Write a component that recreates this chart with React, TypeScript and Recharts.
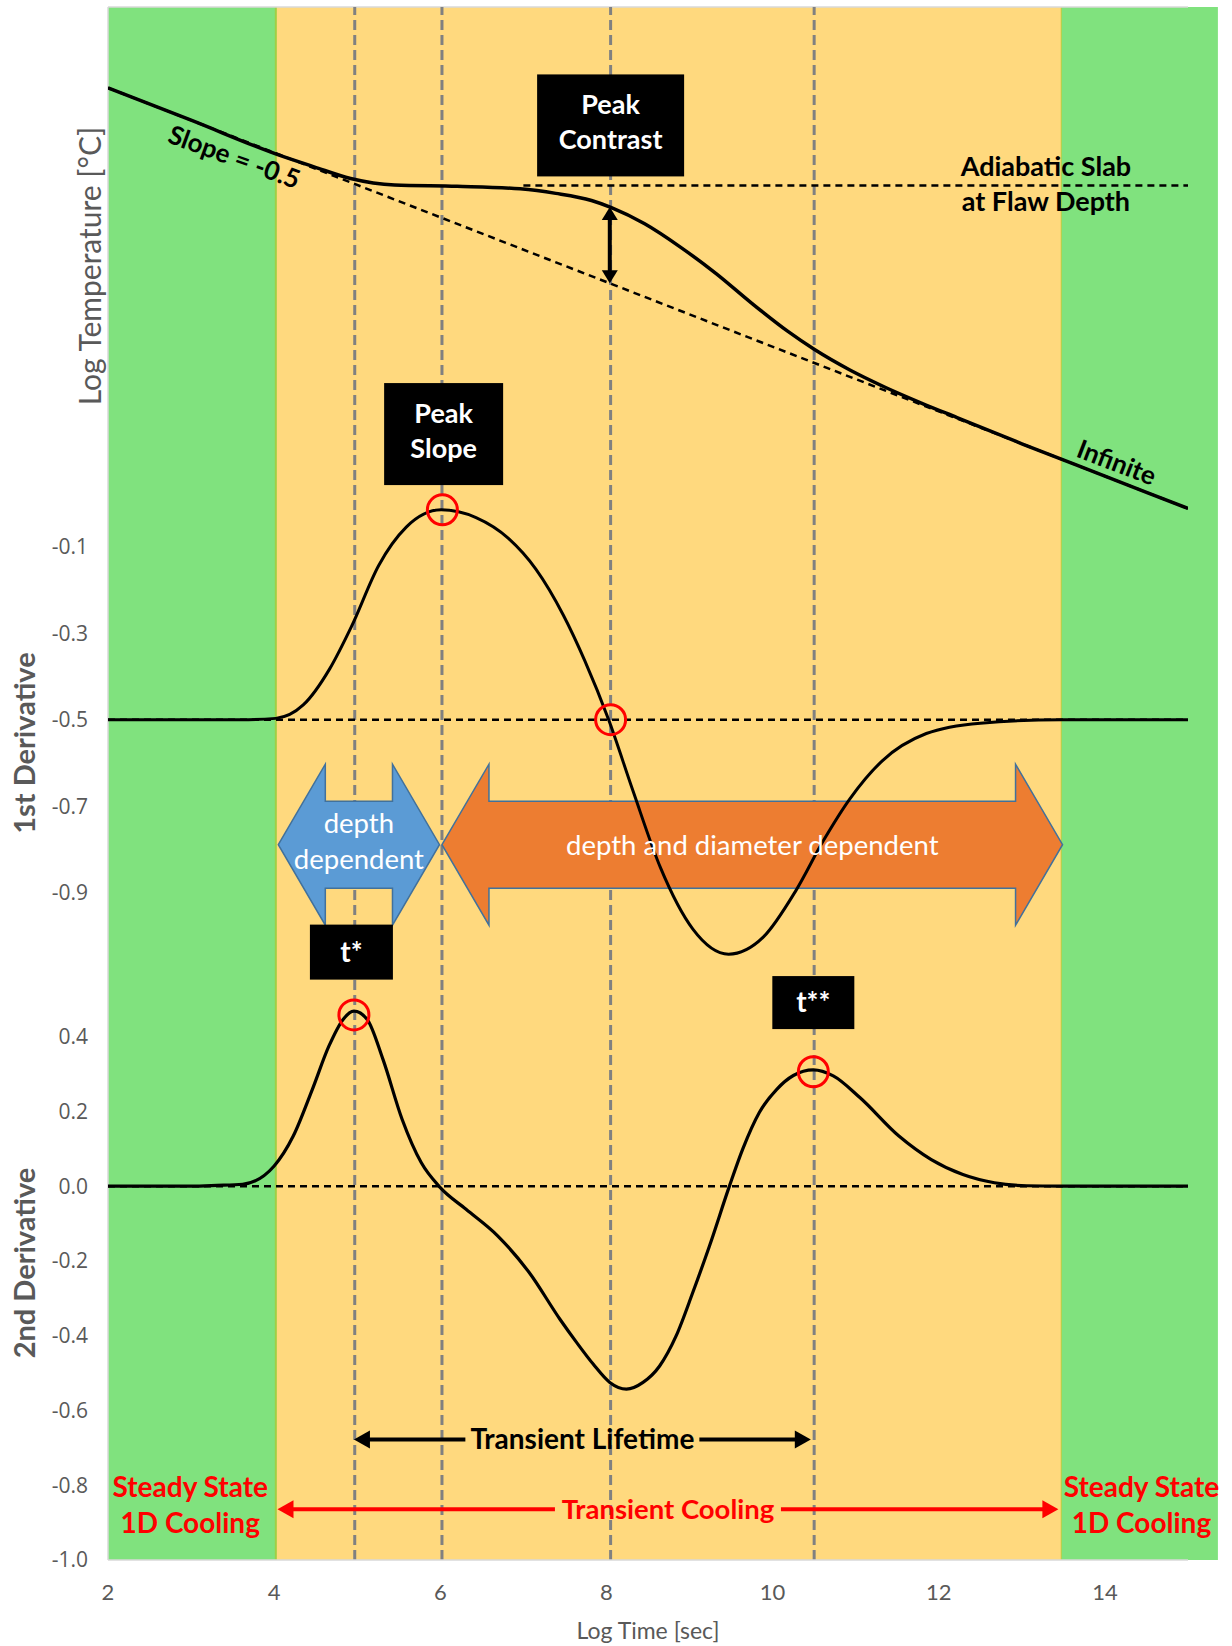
/**
 * Thermographic signal reconstruction sketch: log temperature, 1st and 2nd
 * derivative vs log time, stacked on one plot area with three y axes.
 */

import React from "react";
import {
  ComposedChart,
  Line,
  XAxis,
  YAxis,
  ReferenceArea,
  ReferenceLine,
  ReferenceDot,
} from "recharts";

// ---- axes ----
const TIME_TICKS = [2, 4, 6, 8, 10, 12, 14];
const FIRST_DERIV_TICKS = [-0.9, -0.7, -0.5, -0.3, -0.1];
const SECOND_DERIV_TICKS = [-1.0, -0.8, -0.6, -0.4, -0.2, 0.0, 0.2, 0.4];

// ---- log temperature (arbitrary log units) ----
const TEMP_TIME = [2, 3, 4.06, 4.48, 4.92, 5.45, 6.2, 6.96, 7.39, 7.82, 8.06, 8.46, 8.89, 9.32, 9.75, 10.18, 10.5, 10.93, 11.36, 11.79, 12.22, 13, 14, 15];
const TEMP_VALUE = [22.75, 22.25, 21.71, 21.53, 21.35, 21.25, 21.23, 21.19, 21.12, 21.01, 20.9, 20.65, 20.29, 19.88, 19.42, 18.99, 18.71, 18.39, 18.12, 17.88, 17.655, 17.25, 16.75, 16.25];

const INFINITE_TIME = [2, 15];
const INFINITE_VALUE = [22.75, 16.25];

const SLAB_TIME = [7, 15];
const SLAB_VALUE = [21.24, 21.24];

// ---- 1st derivative ----
const D1_TIME = [2, 3, 3.69, 4.02, 4.35, 4.67, 4.93, 5.26, 5.59, 6.01, 6.43, 6.82, 7.15, 7.48, 7.74, 8.03, 8.32, 8.65, 9.04, 9.47, 9.89, 10.28, 10.61, 10.93, 11.32, 11.85, 12.5, 13.48, 15];
const D1_VALUE = [-0.5, -0.5, -0.5, -0.497, -0.466, -0.382, -0.285, -0.143, -0.055, -0.015, -0.033, -0.081, -0.152, -0.258, -0.364, -0.502, -0.665, -0.842, -0.984, -1.042, -1.002, -0.895, -0.78, -0.683, -0.595, -0.532, -0.508, -0.5, -0.5];

// ---- 2nd derivative ----
const D2_TIME = [2, 3, 3.31, 3.62, 4.0, 4.23, 4.46, 4.66, 4.83, 4.96, 5.12, 5.31, 5.54, 5.77, 6.0, 6.31, 6.69, 7.07, 7.44, 7.64, 7.84, 8.04, 8.24, 8.44, 8.64, 8.84, 9.04, 9.24, 9.48, 9.64, 9.84, 10.05, 10.25, 10.49, 10.73, 11.05, 11.52, 11.91, 12.29, 12.67, 13.06, 13.44, 15];
const D2_VALUE = [0, 0, 0.002, 0.005, 0.054, 0.134, 0.259, 0.375, 0.446, 0.468, 0.446, 0.339, 0.179, 0.063, -0.004, -0.062, -0.133, -0.231, -0.356, -0.418, -0.476, -0.525, -0.543, -0.525, -0.481, -0.4, -0.284, -0.16, 0, 0.099, 0.197, 0.259, 0.296, 0.311, 0.295, 0.237, 0.134, 0.071, 0.031, 0.009, 0.001, 0, 0];

// ---- regions and markers ----
const STEADY_END = 4.02;
const TRANSIENT_END = 13.48;
const GREEN_RIGHT_EDGE = 15.36;
const MARKER_TIMES = [4.97, 6.02, 8.05, 10.5];

const GREEN = "#80E27E";
const YELLOW = "#FFD97E";
const TEXT_GRAY = "#595959";
const FONT = "Lato, 'Open Sans', sans-serif";

const zip = (xs: number[], vs: number[]) => xs.map((x, i) => ({ x, v: vs[i] }));

function AxisTitle({ px, py, text, bold }: { px: number; py: number; text: string; bold?: boolean }) {
  return (
    <text
      x={px}
      y={py}
      transform={`rotate(-90 ${px} ${py})`}
      textAnchor="middle"
      dominantBaseline="central"
      fill={TEXT_GRAY}
      fontSize={bold ? 29 : 30}
      fontWeight={bold ? 700 : 400}
      fontFamily={FONT}
    >
      {text}
    </text>
  );
}

const textShape =
  (lines: string[], color: string, size: number, gap = 35, rotate = 0, weight = 700) =>
  (p: any) => {
    const { cx, cy } = p;
    const top = cy - ((lines.length - 1) * gap) / 2;
    return (
      <text
        transform={rotate ? `rotate(${rotate} ${cx} ${cy})` : undefined}
        textAnchor="middle"
        fill={color}
        fontSize={size}
        fontWeight={weight}
        fontFamily={FONT}
      >
        {lines.map((l, i) => (
          <tspan key={i} x={cx} y={top + i * gap} dy="0.35em">
            {l}
          </tspan>
        ))}
      </text>
    );
  };

const boxShape = (lines: string[], w: number, h: number, size = 27) => (p: any) => {
  const { cx, cy } = p;
  const gap = 35;
  const top = cy - ((lines.length - 1) * gap) / 2 - (lines.length > 1 ? 3 : 0);
  return (
    <g>
      <rect x={cx - w / 2} y={cy - h / 2} width={w} height={h} fill="#000" />
      <text textAnchor="middle" fill="#fff" fontSize={size} fontWeight={700} fontFamily={FONT}>
        {lines.map((l, i) => (
          <tspan key={i} x={cx} y={top + i * gap} dy="0.35em">
            {l}
          </tspan>
        ))}
      </text>
    </g>
  );
};

const yellowBand = (p: any) => (
  <g>
    <rect x={p.x} y={p.y} width={p.width} height={p.height} fill={YELLOW} />
    <line x1={p.x} y1={p.y} x2={p.x} y2={p.y + p.height} stroke="#9FCF45" strokeWidth={2} />
    <line x1={p.x + p.width} y1={p.y} x2={p.x + p.width} y2={p.y + p.height} stroke="#C6C93E" strokeWidth={2} />
  </g>
);

const blockArrow = (fill: string) => (p: any) => {
  const { x, y, width: w, height: h } = p;
  const head = 47;
  const inset = h * 0.23;
  const cy = y + h / 2;
  const pts = [
    [x, cy],
    [x + head, y],
    [x + head, y + inset],
    [x + w - head, y + inset],
    [x + w - head, y],
    [x + w, cy],
    [x + w - head, y + h],
    [x + w - head, y + h - inset],
    [x + head, y + h - inset],
    [x + head, y + h],
  ];
  return <polygon points={pts.map((q) => q.join(",")).join(" ")} fill={fill} stroke="#41719C" strokeWidth={1.5} />;
};

const hArrow = (color: string, label: string, gap: number, size: number) => (p: any) => {
  const xl = Math.min(p.x1, p.x2);
  const xr = Math.max(p.x1, p.x2);
  const y = p.y1;
  const mid = (xl + xr) / 2;
  const head = 16;
  const hw = 9;
  return (
    <g>
      <line x1={xl + head - 2} y1={y} x2={mid - gap / 2} y2={y} stroke={color} strokeWidth={4} />
      <line x1={mid + gap / 2} y1={y} x2={xr - head + 2} y2={y} stroke={color} strokeWidth={4} />
      <polygon points={`${xl},${y} ${xl + head},${y - hw} ${xl + head},${y + hw}`} fill={color} />
      <polygon points={`${xr},${y} ${xr - head},${y - hw} ${xr - head},${y + hw}`} fill={color} />
      <text x={mid} y={y} dy="0.35em" textAnchor="middle" fill={color} fontSize={size} fontWeight={700} fontFamily={FONT}>
        {label}
      </text>
    </g>
  );
};

const vArrow = (p: any) => {
  const yt = Math.min(p.y1, p.y2);
  const yb = Math.max(p.y1, p.y2);
  const x = p.x1;
  const head = 13;
  const hw = 8;
  return (
    <g>
      <line x1={x} y1={yt + head - 2} x2={x} y2={yb - head + 2} stroke="#000" strokeWidth={4} />
      <polygon points={`${x},${yt} ${x - hw},${yt + head} ${x + hw},${yt + head}`} fill="#000" />
      <polygon points={`${x},${yb} ${x - hw},${yb - head} ${x + hw},${yb - head}`} fill="#000" />
    </g>
  );
};

export default function App() {
  const tempData = zip(TEMP_TIME, TEMP_VALUE);
  const infiniteData = zip(INFINITE_TIME, INFINITE_VALUE);
  const slabData = zip(SLAB_TIME, SLAB_VALUE);
  const d1Data = zip(D1_TIME, D1_VALUE);
  const d2Data = zip(D2_TIME, D2_VALUE);

  const dashed = { stroke: "#000", strokeWidth: 2.5, strokeDasharray: "7 5" };
  const yTick = { fontSize: 21, fill: TEXT_GRAY, fontFamily: "'Open Sans', sans-serif" };

  return (
    <div style={{ position: "absolute", left: 0, top: 0, width: 1232, height: 1646, background: "#fff", fontFamily: FONT }}>
      <ComposedChart width={1232} height={1646} margin={{ top: 7, right: 44, bottom: 56, left: 105 }}>
        <XAxis
          type="number"
          dataKey="x"
          domain={[2, 15]}
          allowDataOverflow
          ticks={TIME_TICKS}
          interval={0}
          tickLine={false}
          tickSize={0}
          tickMargin={24}
          height={30}
          axisLine={{ stroke: "#D9D9D9", strokeWidth: 1.5 }}
          tick={{ fontSize: 22, fill: TEXT_GRAY, fontFamily: FONT }}
          label={{ value: "Log Time [sec]", position: "bottom", offset: 33, fill: TEXT_GRAY, fontSize: 23, fontFamily: FONT }}
        />
        <YAxis
          yAxisId="temp"
          type="number"
          domain={[0, 24]}
          allowDataOverflow
          width={1}
          tick={false}
          tickLine={false}
          axisLine={false}
          label={<AxisTitle px={89} py={266} text="Log Temperature [°C]" />}
        />
        <YAxis
          yAxisId="d1"
          type="number"
          domain={[-2.442, 1.147]}
          allowDataOverflow
          ticks={FIRST_DERIV_TICKS}
          interval={0}
          width={1}
          tickSize={0}
          tickMargin={20}
          tickLine={false}
          axisLine={false}
          tick={yTick}
          tickFormatter={(v: number) => v.toFixed(1)}
          label={<AxisTitle px={23} py={743} text="1st Derivative" bold />}
        />
        <YAxis
          yAxisId="d2"
          type="number"
          domain={[-1, 3.154]}
          allowDataOverflow
          ticks={SECOND_DERIV_TICKS}
          interval={0}
          width={1}
          tickSize={0}
          tickMargin={19}
          tickLine={false}
          axisLine={false}
          tick={yTick}
          tickFormatter={(v: number) => v.toFixed(1)}
          label={<AxisTitle px={23} py={1263} text="2nd Derivative" bold />}
        />

        {/* background regions */}
        <ReferenceArea yAxisId="d2" x1={2} x2={STEADY_END} fill={GREEN} fillOpacity={1} stroke="none" ifOverflow="visible" zIndex={-300} />
        <ReferenceArea yAxisId="d2" x1={STEADY_END} x2={TRANSIENT_END} shape={yellowBand} ifOverflow="visible" zIndex={-300} />
        <ReferenceArea yAxisId="d2" x1={TRANSIENT_END} x2={GREEN_RIGHT_EDGE} fill={GREEN} fillOpacity={1} stroke="none" ifOverflow="visible" zIndex={-300} />
        <ReferenceLine yAxisId="temp" y={24} stroke="#D9D9D9" strokeWidth={1.5} zIndex={-250} />
        <ReferenceLine yAxisId="temp" x={2} stroke="#D9D9D9" strokeWidth={1.5} zIndex={-250} />

        {/* characteristic times */}
        {MARKER_TIMES.map((t) => (
          <ReferenceLine key={t} yAxisId="d2" x={t} stroke="#808080" strokeWidth={3} strokeDasharray="10 5" zIndex={-250} />
        ))}

        {/* dependence arrows */}
        <ReferenceArea yAxisId="d1" x1={4.05} x2={5.99} y1={-0.975} y2={-0.603} shape={blockArrow("#5B9BD5")} ifOverflow="visible" zIndex={-200} />
        <ReferenceArea yAxisId="d1" x1={6.02} x2={13.49} y1={-0.975} y2={-0.603} shape={blockArrow("#ED7D31")} ifOverflow="visible" zIndex={-200} />

        {/* reference levels */}
        <ReferenceLine yAxisId="d1" y={-0.5} {...dashed} zIndex={300} />
        <ReferenceLine yAxisId="d2" y={0} {...dashed} zIndex={300} />
        <Line yAxisId="temp" data={infiniteData} dataKey="v" type="linear" {...dashed} dot={false} activeDot={false} isAnimationActive={false} zIndex={300} />
        <Line yAxisId="temp" data={slabData} dataKey="v" type="linear" {...dashed} dot={false} activeDot={false} isAnimationActive={false} zIndex={300} />

        {/* curves */}
        <Line yAxisId="temp" data={tempData} dataKey="v" type="monotone" stroke="#000" strokeWidth={3.5} dot={false} activeDot={false} isAnimationActive={false} zIndex={400} />
        <Line yAxisId="d1" data={d1Data} dataKey="v" type="monotone" stroke="#000" strokeWidth={3} dot={false} activeDot={false} isAnimationActive={false} zIndex={400} />
        <Line yAxisId="d2" data={d2Data} dataKey="v" type="monotone" stroke="#000" strokeWidth={3.2} dot={false} activeDot={false} isAnimationActive={false} zIndex={400} />

        {/* highlighted points */}
        <ReferenceDot yAxisId="d1" x={6.025} y={-0.015} r={15} fill="none" stroke="#FF0000" strokeWidth={3} zIndex={600} />
        <ReferenceDot yAxisId="d1" x={8.05} y={-0.5} r={15} fill="none" stroke="#FF0000" strokeWidth={3} zIndex={600} />
        <ReferenceDot yAxisId="d2" x={4.96} y={0.458} r={15} fill="none" stroke="#FF0000" strokeWidth={3} zIndex={600} />
        <ReferenceDot yAxisId="d2" x={10.49} y={0.306} r={15} fill="none" stroke="#FF0000" strokeWidth={3} zIndex={600} />

        {/* contrast and lifetime arrows */}
        <ReferenceLine yAxisId="temp" segment={[{ x: 8.04, y: 20.91 }, { x: 8.04, y: 19.73 }]} shape={vArrow} zIndex={650} />
        <ReferenceLine yAxisId="d2" segment={[{ x: 4.96, y: -0.678 }, { x: 10.46, y: -0.678 }]} shape={hArrow("#000", "Transient Lifetime", 234, 28)} zIndex={650} />
        <ReferenceLine yAxisId="d2" segment={[{ x: 4.04, y: -0.864 }, { x: 13.44, y: -0.864 }]} shape={hArrow("#FF0000", "Transient Cooling", 226, 27.5)} zIndex={650} />

        {/* text annotations */}
        <ReferenceDot yAxisId="temp" x={3.52} y={21.68} r={0} shape={textShape(["Slope = -0.5"], "#000", 26, 35, 20)} zIndex={700} />
        <ReferenceDot yAxisId="temp" x={14.14} y={16.96} r={0} shape={textShape(["Infinite"], "#000", 26, 35, 21)} zIndex={700} />
        <ReferenceDot yAxisId="temp" x={13.29} y={21.27} r={0} shape={textShape(["Adiabatic Slab", "at Flaw Depth"], "#000", 27)} zIndex={700} />
        <ReferenceDot yAxisId="d1" x={5.02} y={-0.781} r={0} shape={textShape(["depth", "dependent"], "#fff", 27.5, 36, 0, 400)} zIndex={700} />
        <ReferenceDot yAxisId="d1" x={9.755} y={-0.791} r={0} shape={textShape(["depth and diameter dependent"], "#fff", 27.5, 35, 0, 400)} zIndex={700} />
        <ReferenceDot yAxisId="d2" x={2.99} y={-0.853} r={0} shape={textShape(["Steady State", "1D Cooling"], "#FF0000", 28, 36)} zIndex={700} />
        <ReferenceDot yAxisId="d2" x={14.44} y={-0.853} r={0} shape={textShape(["Steady State", "1D Cooling"], "#FF0000", 28, 36)} zIndex={700} />

        {/* labelled boxes */}
        <ReferenceDot yAxisId="temp" x={8.05} y={22.17} r={0} shape={boxShape(["Peak", "Contrast"], 147, 102)} zIndex={700} />
        <ReferenceDot yAxisId="temp" x={6.04} y={17.4} r={0} shape={boxShape(["Peak", "Slope"], 119, 102)} zIndex={700} />
        <ReferenceDot yAxisId="d2" x={4.93} y={0.626} r={0} shape={boxShape(["t*"], 83, 55, 28)} zIndex={700} />
        <ReferenceDot yAxisId="d2" x={10.49} y={0.491} r={0} shape={boxShape(["t**"], 82, 53, 28)} zIndex={700} />
      </ComposedChart>
    </div>
  );
}
